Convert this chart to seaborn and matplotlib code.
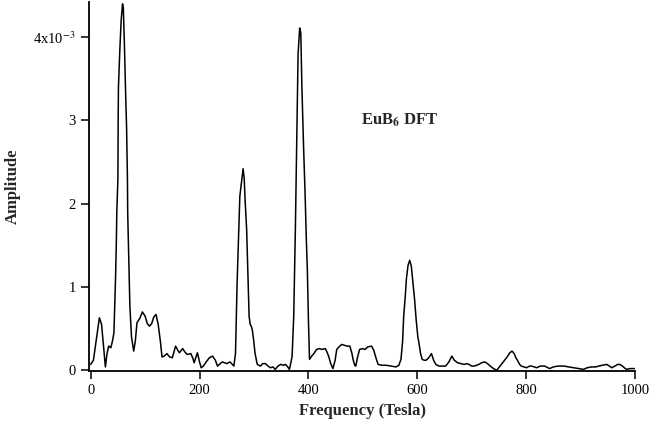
import pandas as pd
import seaborn as sns
import matplotlib
matplotlib.use('Agg')
import matplotlib.pyplot as plt

# Espectro DFT (amplitud en unidades de 1e-3)
freq = [0, 5, 10, 16, 20, 24, 27, 30, 33, 37, 40, 42.7, 45.6, 47, 48, 50, 50.5, 51, 53.5, 56, 58.5,
        60, 62, 64, 66, 67.5, 68, 70, 72, 75, 79, 82, 85, 90, 95, 100, 104, 108, 112, 116, 120,
        124, 128, 131, 135, 140, 145, 150, 156, 160, 163, 169, 173, 177, 184, 188, 190, 196, 200,
        203, 207, 211, 218, 224, 229, 233, 238, 242, 250, 256, 263, 266, 269, 272, 274, 277, 280,
        282, 284, 286.5, 289, 291, 293, 295, 297, 299, 302, 306, 312, 316, 321, 326, 330, 335,
        339, 344, 349, 354, 358, 362, 365, 368, 370, 373, 376, 379, 381, 384, 386, 388, 391, 394,
        396, 398, 400, 402, 406, 410, 415, 420, 425, 431, 434, 437, 441, 445, 449, 452, 456, 461,
        466, 471, 476, 480, 482, 485, 487, 490, 494, 499, 504, 509, 516, 520, 524, 528, 535, 543,
        552, 561, 566, 570, 573, 575, 578, 580, 583, 586, 589, 592, 595, 598, 601, 603, 606, 609,
        613, 616, 621, 626, 630, 634, 640, 646, 652, 658, 663.5, 668, 674, 680, 686, 691, 695,
        700, 704, 709, 713, 718, 724, 729, 734, 740, 746, 752, 759, 765, 770, 774, 778, 781, 784,
        788, 791, 796, 801, 806, 810, 815, 819, 826, 834, 840, 843, 850, 858, 864, 870, 878, 888,
        897, 905, 912, 920, 928, 933, 940, 948, 953, 957, 963, 968, 972, 977, 982, 985, 990, 1000]
amp = [0.07, 0.12, 0.35, 0.63, 0.55, 0.25, 0.04, 0.2, 0.29, 0.27, 0.35, 0.45, 1.09, 1.49, 1.9, 2.3,
       3.0, 3.4, 3.84, 4.2, 4.4,
       4.35, 3.9, 3.37, 2.9, 2.3, 1.89, 1.3, 0.77, 0.4, 0.23, 0.35, 0.57, 0.62, 0.70, 0.65, 0.56,
       0.53, 0.56, 0.64, 0.67,
       0.55, 0.35, 0.16, 0.17, 0.2, 0.16, 0.15, 0.29, 0.24, 0.21, 0.26, 0.22, 0.19, 0.2, 0.14,
       0.09, 0.21, 0.1,
       0.03, 0.05, 0.09, 0.15, 0.17, 0.12, 0.05, 0.08, 0.1, 0.08, 0.1, 0.05, 0.2, 1.05, 1.7, 2.09,
       2.25, 2.42,
       2.3, 2.0, 1.69, 1.1, 0.65, 0.55, 0.53, 0.48, 0.38, 0.2, 0.07, 0.05, 0.08, 0.08, 0.05, 0.03,
       0.04,
       0.01, 0.05, 0.07, 0.06, 0.07, 0.04, 0.01, 0.1, 0.17, 0.65, 1.69, 3.0, 3.8, 4.11, 4.05, 3.4,
       2.7, 2.09,
       1.6, 1.21, 0.6, 0.13, 0.17, 0.2, 0.25, 0.26, 0.25, 0.26, 0.22, 0.17, 0.08, 0.02, 0.12, 0.25,
       0.28, 0.31,
       0.3, 0.29, 0.29, 0.2, 0.13, 0.06, 0.05, 0.15, 0.25, 0.26, 0.25, 0.28, 0.29, 0.24, 0.15,
       0.07, 0.06, 0.06,
       0.05, 0.04, 0.06, 0.13, 0.35, 0.65, 0.9, 1.1, 1.26, 1.32, 1.25, 1.05, 0.85, 0.6, 0.4, 0.33,
       0.2, 0.13,
       0.12, 0.12, 0.15, 0.2, 0.12, 0.07, 0.05, 0.05, 0.05, 0.1, 0.17, 0.12, 0.09, 0.08, 0.07,
       0.08, 0.07,
       0.05, 0.05, 0.06, 0.07, 0.09, 0.1, 0.08, 0.05, 0.02, 0.0, 0.05, 0.11, 0.16, 0.21, 0.23, 0.2,
       0.15, 0.12,
       0.07, 0.05, 0.04, 0.03, 0.05, 0.05, 0.04, 0.03, 0.05, 0.05, 0.03, 0.02, 0.04, 0.05, 0.05,
       0.05, 0.04, 0.03,
       0.02, 0.01, 0.03, 0.04, 0.04, 0.05, 0.06, 0.07, 0.05, 0.03, 0.05, 0.07, 0.07, 0.05, 0.02,
       0.01, 0.02, 0.02]

x_ticks = [0, 200, 400, 600, 800, 1000]
y_ticks = [0, 1, 2, 3, 4]
y_tick_labels = ['0', '1', '2', '3', '4x10$^{-3}$']

df = pd.DataFrame({'freq': freq, 'amp': amp})

sns.set_style('ticks')
plt.rcParams['font.family'] = ['Liberation Serif', 'DejaVu Serif']
plt.rcParams['mathtext.fontset'] = 'stix'

fig = plt.figure(figsize=(6.5, 4.3), dpi=100)
ax = fig.add_axes([0.137, 0.137, 0.840, 0.858])

sns.lineplot(data=df, x='freq', y='amp', color='black', linewidth=1.1, ax=ax)

ax.set_xlim(-3, 1000)
ax.set_ylim(-0.01, 4.42)
ax.set_xticks(x_ticks)
ax.set_yticks(y_ticks)
ax.set_yticklabels(y_tick_labels)
ax.tick_params(axis='both', direction='out', length=6, width=1.1, labelsize=10.5, colors='black')
for s in ['top', 'right']:
    ax.spines[s].set_visible(False)
for s in ['left', 'bottom']:
    ax.spines[s].set_linewidth(1.3)
    ax.spines[s].set_color('black')

ax.set_xlabel('Frequency (Tesla)', fontsize=12, fontweight='bold', labelpad=4)
ax.set_ylabel('Amplitude', fontsize=12, fontweight='bold')
ax.yaxis.set_label_coords(-0.125, 0.5)
ax.text(497, 3.0, 'EuB$_\\mathbf{6}$ DFT', fontsize=12, fontweight='bold', va='center', ha='left')

plt.savefig('out.png', dpi=100)
